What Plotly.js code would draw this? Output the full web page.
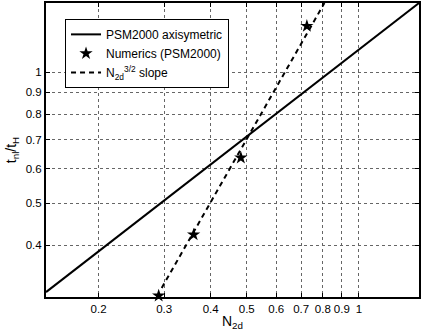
<!DOCTYPE html>
<html>
<head>
<meta charset="utf-8">
<script src="https://cdn.plot.ly/plotly-3.0.1.min.js"></script>
<style>
html,body{margin:0;padding:0;background:#fff;}
#chart{width:422px;height:331px;}
</style>
</head>
<body>
<div id="chart"></div>
<script>
// Solid line: PSM2000 axisymmetric (end points)
var modelN = [0.1445, 1.45];
var modelT = [0.312, 1.444];
// Numerics (PSM2000) stars
var numN = [0.290, 0.360, 0.482, 0.725];
var numT = [0.306, 0.423, 0.636, 1.278];
// N_2d^{3/2} slope dashed line (end points)
var slopeN = [0.2955, 0.808];
var slopeT = [0.319, 1.444];
// Tick labels
var xTicks = [0.2, 0.3, 0.4, 0.5, 0.6, 0.7, 0.8, 0.9, 1];
var xTickText = ['0.2', '0.3', '0.4', '0.5', '0.6', '0.7', '0.8', '0.9', '1'];
var yTicks = [0.4, 0.5, 0.6, 0.7, 0.8, 0.9, 1];
var yTickText = ['0.4', '0.5', '0.6', '0.7', '0.8', '0.9', '1'];

var font = {family: 'Liberation Sans, Arial, Helvetica, sans-serif', size: 11.5, color: '#000'};

var traces = [
  {x: modelN, y: modelT, mode: 'lines', name: 'PSM2000 axisymetric',
   line: {color: '#000', width: 2}},
  {x: numN, y: numT, mode: 'markers', name: 'Numerics (PSM2000)',
   marker: {symbol: 'star', size: 10, color: '#000'}, cliponaxis: false},
  {x: slopeN, y: slopeT, mode: 'lines', name: 'N<sub>2d</sub><sup>3/2</sup> slope',
   line: {color: '#000', width: 2, dash: '5px,4px'}}
];

var axisCommon = {
  type: 'log',
  showline: true, mirror: 'ticks', linecolor: '#000', linewidth: 2,
  ticks: 'inside', ticklen: 4, tickcolor: '#000', tickwidth: 1,
  showgrid: true, gridcolor: '#666', gridwidth: 1, griddash: 'dot',
  zeroline: false, tickfont: font, tickmode: 'array'
};

var layout = {
  width: 422, height: 331,
  margin: {l: 46, r: 3, t: 3, b: 34},
  paper_bgcolor: '#fff', plot_bgcolor: '#fff',
  font: font,
  showlegend: true,
  legend: {x: 0.051, y: 0.946, xanchor: 'left', yanchor: 'top',
    bgcolor: '#fff', bordercolor: '#000', borderwidth: 1,
    font: {family: font.family, size: 12, color: '#000'},
    itemwidth: 30, tracegroupgap: 0},
  xaxis: Object.assign({}, axisCommon, {
    range: [Math.log10(0.1445), Math.log10(1.45)],
    tickvals: xTicks, ticktext: xTickText,
    title: {text: 'N<sub>2d</sub>', font: {family: font.family, size: 14, color: '#000'}, standoff: 2}
  }),
  yaxis: Object.assign({}, axisCommon, {
    range: [Math.log10(0.304), Math.log10(1.444)],
    tickvals: yTicks, ticktext: yTickText,
    title: {text: 't<sub>nl</sub>/t<sub>H</sub>', font: {family: font.family, size: 14, color: '#000'}, standoff: 6}
  })
};

Plotly.newPlot('chart', traces, layout, {staticPlot: true, displayModeBar: false});
</script>
</body>
</html>
